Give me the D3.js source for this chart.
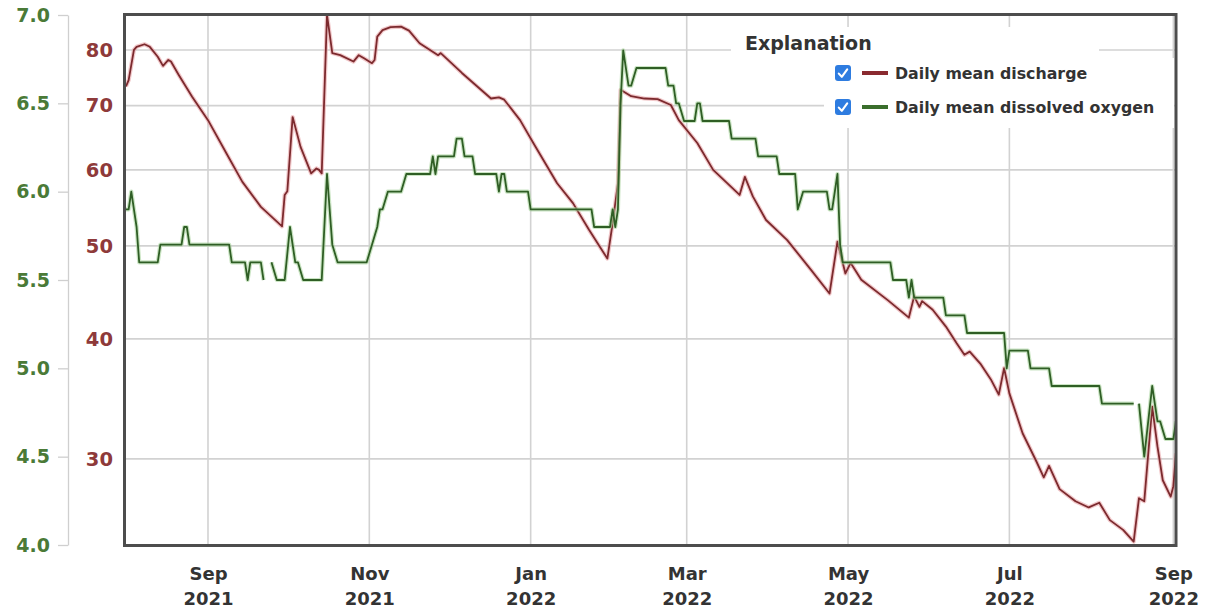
<!DOCTYPE html>
<html>
<head>
<meta charset="utf-8">
<script src="https://cdn.jsdelivr.net/npm/d3@7"></script>
<style>
  html, body { margin: 0; padding: 0; background: #ffffff; }
  svg { display: block; }
</style>
</head>
<body>
<svg id="chart" width="1211" height="610"></svg>
<script>
// Daily mean discharge (ft³/s), key daily values
const dischargeDates = [
  "2021-08-01","2021-08-02","2021-08-04","2021-08-05","2021-08-08","2021-08-10","2021-08-13","2021-08-15",
  "2021-08-17","2021-08-18","2021-08-21","2021-08-26","2021-09-01","2021-09-08","2021-09-14","2021-09-21",
  "2021-09-29","2021-09-30","2021-10-01","2021-10-03","2021-10-06","2021-10-10","2021-10-12","2021-10-13",
  "2021-10-14","2021-10-16","2021-10-18","2021-10-21","2021-10-26","2021-10-28","2021-10-30","2021-11-02",
  "2021-11-03","2021-11-04","2021-11-06","2021-11-09","2021-11-13","2021-11-16","2021-11-20","2021-11-27",
  "2021-11-28","2021-12-06","2021-12-17","2021-12-20","2021-12-22","2021-12-28","2022-01-02","2022-01-11",
  "2022-01-17","2022-01-23","2022-01-30","2022-02-01","2022-02-03","2022-02-04","2022-02-08","2022-02-13",
  "2022-02-18","2022-02-23","2022-02-26","2022-03-05","2022-03-11","2022-03-21","2022-03-23","2022-03-26",
  "2022-03-31","2022-04-08","2022-04-17","2022-04-24","2022-04-27","2022-04-30","2022-05-02","2022-05-06",
  "2022-05-16","2022-05-24","2022-05-26","2022-05-28","2022-05-29","2022-06-02","2022-06-07","2022-06-11",
  "2022-06-14","2022-06-16","2022-06-20","2022-06-24","2022-06-27","2022-06-29","2022-07-01","2022-07-06",
  "2022-07-11","2022-07-14","2022-07-16","2022-07-20","2022-07-26","2022-07-31","2022-08-04","2022-08-08",
  "2022-08-13","2022-08-17","2022-08-19","2022-08-21","2022-08-24","2022-08-26","2022-08-28","2022-08-31",
  "2022-09-01","2022-09-02"
];
const dischargeValues = [
  73.3, 74.4, 80.0, 80.6, 81.1, 80.6, 78.7, 77.0,
  78.1, 77.8, 75.3, 71.5, 67.6, 62.4, 58.3, 54.9,
  52.4, 56.5, 57.0, 68.1, 63.4, 59.5, 60.2, 60.0,
  59.5, 87.0, 79.4, 79.0, 77.8, 79.0, 78.4, 77.5,
  78.1, 82.6, 83.9, 84.5, 84.6, 83.8, 81.3, 79.0,
  79.4, 75.7, 71.2, 71.4, 71.0, 67.6, 64.0, 58.1,
  55.4, 52.0, 48.5, 52.8, 58.1, 72.7, 71.6, 71.2,
  71.1, 70.1, 67.6, 64.0, 60.0, 56.5, 59.0, 56.3,
  53.2, 50.7, 47.2, 44.6, 50.5, 46.8, 48.0, 46.1,
  43.9, 42.1, 44.3, 43.2, 43.8, 42.9, 41.2, 39.6,
  38.5, 38.8, 37.7, 36.3, 35.0, 37.3, 35.1, 31.9,
  29.9, 28.7, 29.5, 27.9, 27.1, 26.7, 27.0, 25.9,
  25.3, 24.6, 27.3, 27.1, 34.0, 30.9, 28.5, 27.4,
  28.1, 30.4
];

// Daily mean dissolved oxygen (mg/L); null marks days with no record
const oxygenDates = [
  "2021-08-01","2021-08-02","2021-08-03","2021-08-04","2021-08-05","2021-08-06","2021-08-13","2021-08-14",
  "2021-08-22","2021-08-23","2021-08-24","2021-08-25","2021-09-09","2021-09-10","2021-09-15","2021-09-16",
  "2021-09-17","2021-09-21","2021-09-22","2021-09-23","2021-09-24","2021-09-25","2021-09-27","2021-09-30",
  "2021-10-02","2021-10-04","2021-10-05","2021-10-07","2021-10-14","2021-10-16","2021-10-18","2021-10-20",
  "2021-10-31","2021-11-02","2021-11-04","2021-11-05","2021-11-06","2021-11-08","2021-11-13","2021-11-15",
  "2021-11-24","2021-11-25","2021-11-26","2021-11-27","2021-12-03","2021-12-04","2021-12-06","2021-12-07",
  "2021-12-10","2021-12-11","2021-12-19","2021-12-20","2021-12-21","2021-12-22","2021-12-23","2021-12-31",
  "2022-01-01","2022-01-24","2022-01-25","2022-01-31","2022-02-01","2022-02-02","2022-02-03","2022-02-04",
  "2022-02-05","2022-02-07","2022-02-08","2022-02-10","2022-02-21","2022-02-22","2022-02-24","2022-02-25",
  "2022-02-26","2022-02-28","2022-03-04","2022-03-05","2022-03-06","2022-03-07","2022-03-17","2022-03-18",
  "2022-03-27","2022-03-28","2022-04-04","2022-04-05","2022-04-11","2022-04-12","2022-04-14","2022-04-23",
  "2022-04-24","2022-04-25","2022-04-27","2022-04-28","2022-04-29","2022-05-17","2022-05-18","2022-05-23",
  "2022-05-24","2022-05-25","2022-05-26","2022-06-06","2022-06-07","2022-06-14","2022-06-15","2022-06-29",
  "2022-06-30","2022-07-01","2022-07-08","2022-07-09","2022-07-16","2022-07-17","2022-08-04","2022-08-05",
  "2022-08-17","2022-08-18","2022-08-19","2022-08-21","2022-08-24","2022-08-26","2022-08-27","2022-08-29",
  "2022-09-01","2022-09-02"
];
const oxygenValues = [
  5.9, 5.9, 6.0, 5.9, 5.8, 5.6, 5.6, 5.7,
  5.7, 5.8, 5.8, 5.7, 5.7, 5.6, 5.6, 5.5,
  5.6, 5.6, 5.5, null, null, 5.6, 5.5, 5.5,
  5.8, 5.6, 5.6, 5.5, 5.5, 6.1, 5.7, 5.6,
  5.6, 5.7, 5.8, 5.9, 5.9, 6.0, 6.0, 6.1,
  6.1, 6.2, 6.1, 6.2, 6.2, 6.3, 6.3, 6.2,
  6.2, 6.1, 6.1, 6.0, 6.1, 6.1, 6.0, 6.0,
  5.9, 5.9, 5.8, 5.8, 5.9, 5.8, 5.9, 6.5,
  6.8, 6.6, 6.6, 6.7, 6.7, 6.6, 6.6, 6.5,
  6.5, 6.4, 6.4, 6.5, 6.5, 6.4, 6.4, 6.3,
  6.3, 6.2, 6.2, 6.1, 6.1, 5.9, 6.0, 6.0,
  5.9, 5.9, 6.1, 5.7, 5.6, 5.6, 5.5, 5.5,
  5.4, 5.5, 5.4, 5.4, 5.3, 5.3, 5.2, 5.2,
  5.0, 5.1, 5.1, 5.0, 5.0, 4.9, 4.9, 4.8,
  4.8, null, 4.8, 4.5, 4.9, 4.7, 4.7, 4.6,
  4.6, 4.7
];

const oxygenTicks = [4.0, 4.5, 5.0, 5.5, 6.0, 6.5, 7.0];
const dischargeTicks = [30, 40, 50, 60, 70, 80];
const monthTicks = ["2021-09-01","2021-11-01","2022-01-01","2022-03-01","2022-05-01","2022-07-01","2022-09-01"];
const legendTitle = "Explanation";
const legendLabels = ["Daily mean discharge", "Daily mean dissolved oxygen"];

const parse = d3.timeParse("%Y-%m-%d");
const svg = d3.select("#chart");

const box = { left: 124.5, right: 1176, top: 14.5, bottom: 545.5 };

const x = d3.scaleTime()
  .domain([parse("2021-08-01"), parse("2022-09-02")])
  .range([126, 1176]);

const yOxygen = d3.scaleLinear().domain([4, 7]).range([545, 15]);
const yDischarge = d3.scaleLog().domain([24.4, 87.2]).range([545, 14]);

const FONT = "'DejaVu Sans', Verdana, sans-serif";
const GREEN_TXT = "#4a7a37";
const RED_TXT = "#8e3a3a";

// plot background
svg.append("rect")
  .attr("x", box.left).attr("y", box.top)
  .attr("width", box.right - box.left).attr("height", box.bottom - box.top)
  .attr("fill", "#ffffff");

// gridlines
const grid = svg.append("g").attr("stroke", "#d2d2d2").attr("stroke-width", 1.6);
grid.selectAll("line.v").data(monthTicks).join("line")
  .attr("x1", d => x(parse(d))).attr("x2", d => x(parse(d)))
  .attr("y1", box.top).attr("y2", box.bottom);
grid.selectAll("line.h").data(dischargeTicks).join("line")
  .attr("x1", box.left).attr("x2", box.right)
  .attr("y1", d => yDischarge(d)).attr("y2", d => yDischarge(d));

// clip for the series
svg.append("clipPath").attr("id", "plotClip")
  .append("rect")
  .attr("x", box.left).attr("y", box.top)
  .attr("width", box.right - box.left).attr("height", box.bottom - box.top);

const series = svg.append("g").attr("clip-path", "url(#plotClip)");

const dischargeData = dischargeDates.map((d, i) => ({ date: parse(d), value: dischargeValues[i] }));
const oxygenData = oxygenDates.map((d, i) => ({ date: parse(d), value: oxygenValues[i] }));

const dischargeLine = d3.line()
  .x(d => x(d.date)).y(d => yDischarge(d.value));
const oxygenLine = d3.line()
  .defined(d => d.value !== null)
  .x(d => x(d.date)).y(d => yOxygen(d.value));

// discharge: soft halo under a dark core
series.append("path").datum(dischargeData)
  .attr("d", dischargeLine).attr("fill", "none")
  .attr("stroke", "#e7a3a6").attr("stroke-width", 4.2).attr("stroke-opacity", 0.6)
  .attr("stroke-linejoin", "round");
series.append("path").datum(dischargeData)
  .attr("d", dischargeLine).attr("fill", "none")
  .attr("stroke", "#7c2a2e").attr("stroke-width", 1.8)
  .attr("stroke-linejoin", "round");

// dissolved oxygen
series.append("path").datum(oxygenData)
  .attr("d", oxygenLine).attr("fill", "none")
  .attr("stroke", "#a9d49c").attr("stroke-width", 4.2).attr("stroke-opacity", 0.6)
  .attr("stroke-linejoin", "round");
series.append("path").datum(oxygenData)
  .attr("d", oxygenLine).attr("fill", "none")
  .attr("stroke", "#2f5e25").attr("stroke-width", 1.8)
  .attr("stroke-linejoin", "round");

// frame
svg.append("rect")
  .attr("x", box.left).attr("y", box.top)
  .attr("width", box.right - box.left).attr("height", box.bottom - box.top)
  .attr("fill", "none").attr("stroke", "#4d4d4d").attr("stroke-width", 3);

// outer oxygen axis
const oxAxis = svg.append("g")
  .attr("transform", "translate(68,0)")
  .call(d3.axisLeft(yOxygen).tickValues(oxygenTicks)
    .tickFormat(d3.format(".1f")).tickSize(10).tickSizeOuter(0).tickPadding(8));
oxAxis.select(".domain").attr("stroke", "#cfcfcf").attr("stroke-width", 1.3);
oxAxis.selectAll(".tick line").attr("stroke", "#cfcfcf").attr("stroke-width", 1.3);
oxAxis.selectAll(".tick text")
  .attr("fill", GREEN_TXT).attr("font-family", FONT)
  .attr("font-weight", "bold").attr("font-size", 19);

// inner discharge labels
const dAxis = svg.append("g")
  .attr("transform", "translate(123,0)")
  .call(d3.axisLeft(yDischarge).tickValues(dischargeTicks)
    .tickFormat(d3.format("d")).tickSize(0).tickSizeOuter(0).tickPadding(10));
dAxis.select(".domain").remove();
dAxis.selectAll(".tick text")
  .attr("fill", RED_TXT).attr("font-family", FONT)
  .attr("font-weight", "bold").attr("font-size", 19.5);

// month axis: month name over year
const xAxis = svg.append("g")
  .attr("transform", `translate(0,${box.bottom})`)
  .call(d3.axisBottom(x).tickValues(monthTicks.map(parse))
    .tickFormat(d3.timeFormat("%b")).tickSize(0).tickSizeOuter(0).tickPadding(22));
xAxis.select(".domain").remove();
xAxis.selectAll(".tick text")
  .attr("fill", "#333333").attr("font-family", FONT)
  .attr("font-weight", "bold").attr("font-size", 18)
  .each(function(d) {
    const t = d3.select(this);
    t.append("tspan").attr("x", 0).attr("dy", "1.4em").text(d3.timeFormat("%Y")(d));
  });

// legend panel
const legend = svg.append("g");
legend.append("rect").attr("x", 731).attr("y", 27).attr("width", 368).attr("height", 36).attr("fill", "#ffffff");
legend.append("rect").attr("x", 824).attr("y", 58).attr("width", 350).attr("height", 70).attr("fill", "#ffffff");
legend.append("text")
  .attr("x", 745).attr("y", 50)
  .attr("font-family", FONT).attr("font-weight", "bold").attr("font-size", 19)
  .attr("fill", "#333333").text(legendTitle);

const legendColors = ["#8a2a30", "#3a6e2c"];
const legendRows = legend.selectAll("g.row").data(legendLabels).join("g")
  .attr("transform", (d, i) => `translate(835,${73 + i * 34})`);
legendRows.append("rect")
  .attr("x", 0).attr("y", -8).attr("width", 16).attr("height", 16)
  .attr("rx", 3).attr("fill", "#2e7ce0");
legendRows.append("path")
  .attr("d", "M3.8,0.6 L6.8,3.8 L12.2,-3.6")
  .attr("fill", "none").attr("stroke", "#ffffff").attr("stroke-width", 2.1)
  .attr("stroke-linecap", "round").attr("stroke-linejoin", "round");
legendRows.append("line")
  .attr("x1", 27).attr("x2", 53).attr("y1", 0).attr("y2", 0)
  .attr("stroke", (d, i) => legendColors[i]).attr("stroke-width", 4);
legendRows.append("text")
  .attr("x", 60).attr("y", 5.5)
  .attr("font-family", FONT).attr("font-weight", "bold").attr("font-size", 15.8)
  .attr("fill", "#333333").text(d => d);
</script>
</body>
</html>
